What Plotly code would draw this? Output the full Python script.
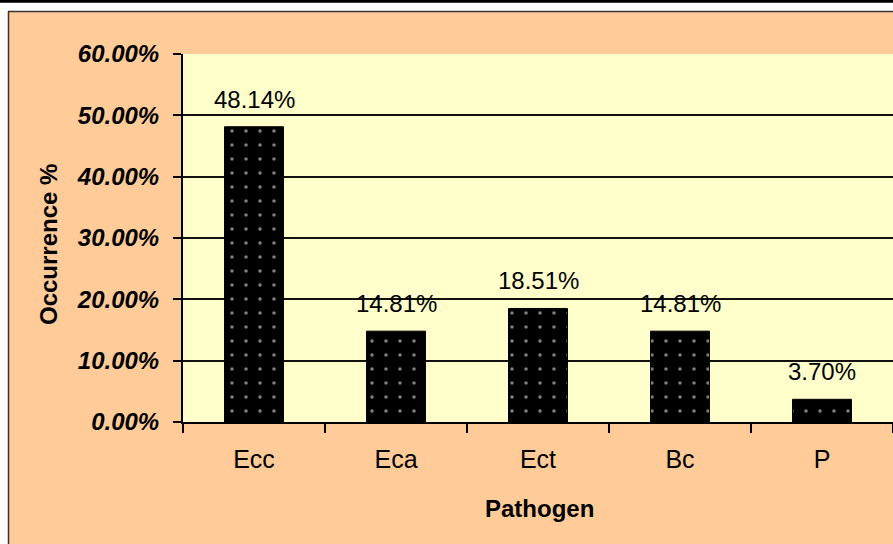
import plotly.graph_objects as go

categories = ["Ecc", "Eca", "Ect", "Bc", "P"]
values = [48.14, 14.81, 18.51, 14.81, 3.70]
labels = ["48.14%", "14.81%", "18.51%", "14.81%", "3.70%"]
y_ticks = [0, 10, 20, 30, 40, 50, 60]
y_tick_text = ["0.00%", "10.00%", "20.00%", "30.00%", "40.00%", "50.00%", "60.00%"]

W, H = 893, 544
L, R, T, B = 183, 0, 54, 122
PW, PH = W - L - R, H - T - B

def px(x):
    return (x - L) / PW

def py(y):
    return (H - B - y) / PH

ORANGE = "#FFCC99"
YELLOW = "#FFFFCC"
FONT = "Arial, Liberation Sans, sans-serif"

fig = go.Figure()
fig.add_trace(go.Bar(
    x=categories, y=values,
    marker=dict(
        color="black",
        line=dict(color="black", width=1),
        pattern=dict(shape=".", fgcolor="white", bgcolor="black", size=14, solidity=0.05),
    ),
    width=0.415,
    hoverinfo="skip",
))

for c, v, t in zip(categories, values, labels):
    fig.add_annotation(x=c, y=v, text=t, showarrow=False, yanchor="bottom", xanchor="center",
                       yshift=12, font=dict(family=FONT, size=24, color="black"))

fig.add_annotation(xref="paper", yref="paper", x=px(48), y=py(245), text="<b>Occurrence %</b>",
                   xanchor="center", yanchor="middle",
                   textangle=-90, showarrow=False, font=dict(family=FONT, size=24, color="black"))
fig.add_annotation(xref="paper", yref="paper", x=px(539), y=py(508), text="<b>Pathogen</b>",
                   xanchor="center", yanchor="middle",
                   showarrow=False, font=dict(family=FONT, size=24, color="black"))

shapes = [
    dict(type="rect", xref="paper", yref="paper", x0=px(-5), x1=px(W + 5), y0=py(-5), y1=py(11),
         fillcolor="white", line=dict(width=0), layer="below"),
    dict(type="rect", xref="paper", yref="paper", x0=px(-5), x1=px(8), y0=py(-5), y1=py(H + 5),
         fillcolor="white", line=dict(width=0), layer="below"),
    dict(type="line", xref="paper", yref="paper", x0=px(8), x1=px(W + 5), y0=py(11.5), y1=py(11.5),
         line=dict(color="#333333", width=1.5), layer="below"),
    dict(type="line", xref="paper", yref="paper", x0=px(8.5), x1=px(8.5), y0=py(11), y1=py(H + 5),
         line=dict(color="#333333", width=1.5), layer="below"),
    dict(type="line", xref="paper", yref="paper", x0=px(-5), x1=px(W + 5), y0=py(1), y1=py(1),
         line=dict(color="black", width=3.5), layer="below"),
]

fig.update_layout(
    width=W, height=H,
    margin=dict(l=L, r=R, t=T, b=B, autoexpand=False),
    paper_bgcolor=ORANGE,
    plot_bgcolor=YELLOW,
    showlegend=False,
    shapes=shapes,
    xaxis=dict(
        showline=True, linecolor="black", linewidth=2,
        ticks="outside", tickson="boundaries", ticklen=9, tickwidth=1.5, tickcolor="black",
        tickfont=dict(family=FONT, size=25, color="black"),
        ticklabelstandoff=14,
        showgrid=False,
    ),
    yaxis=dict(
        range=[0, 60], tickvals=y_ticks, ticktext=y_tick_text,
        showline=True, linecolor="black", linewidth=2, mirror=True,
        ticks="outside", ticklen=8, tickwidth=1.5, tickcolor="black",
        tickfont=dict(family=FONT, size=24, color="black", weight="bold", style="italic"),
        ticklabelstandoff=9,
        showgrid=True, gridcolor="#111111", gridwidth=1.5,
        zeroline=False,
    ),
)

fig.write_html("out.html", config={"displayModeBar": False},
               post_script="document.body.style.margin='0';document.body.style.overflow='hidden';")
